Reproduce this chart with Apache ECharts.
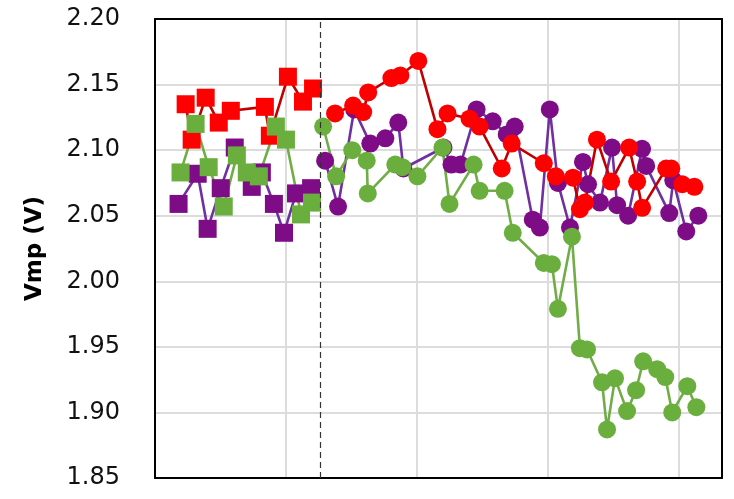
<!DOCTYPE html>
<html>
<head>
<meta charset="utf-8">
<script src="https://cdn.jsdelivr.net/npm/echarts@6/dist/echarts.min.js"></script>
<style>
  html, body { margin: 0; padding: 0; background: #ffffff; }
  #chart { width: 734px; height: 499px; }
</style>
</head>
<body>
<div id="chart"></div>
<script>
// Vmp readings [x position, volts]; squares are the initial run, circles follow the dashed marker
const redSquares = [[2.34,2.135],[2.80,2.108],[3.87,2.140],[4.87,2.121],[5.79,2.130],[8.39,2.133],[8.77,2.111],[10.15,2.156],[11.30,2.137],[12.07,2.147]];
const purpleSquares = [[1.80,2.059],[3.26,2.082],[4.02,2.040],[5.02,2.071],[6.09,2.102],[7.39,2.072],[8.16,2.083],[9.08,2.059],[9.85,2.037],[10.77,2.067],[11.92,2.071]];
const greenSquares = [[1.95,2.083],[3.10,2.120],[4.10,2.087],[5.25,2.057],[6.25,2.096],[7.01,2.083],[7.93,2.080],[9.23,2.118],[10.00,2.108],[11.15,2.051],[11.99,2.060]];

const redCircles = [[13.75,2.128],[15.13,2.134],[15.90,2.129],[16.28,2.144],[18.05,2.155],[18.74,2.157],[20.11,2.168],[21.57,2.116],[22.34,2.128],[24.02,2.124],[24.79,2.118],[26.48,2.086],[27.24,2.105],[29.69,2.090],[30.61,2.080],[31.92,2.079],[32.45,2.055],[32.84,2.060],[33.75,2.108],[34.83,2.076],[36.21,2.102],[36.82,2.076],[37.20,2.056],[39.04,2.086],[39.43,2.086],[40.27,2.074],[41.19,2.072]];
const purpleCircles = [[12.99,2.092],[13.98,2.057],[15.21,2.131],[16.44,2.105],[17.59,2.109],[18.58,2.121],[18.97,2.086],[22.03,2.102],[22.64,2.089],[23.33,2.089],[24.56,2.131],[25.79,2.122],[26.86,2.112],[27.47,2.118],[28.85,2.047],[29.39,2.041],[30.15,2.131],[30.77,2.075],[31.69,2.041],[32.68,2.091],[33.07,2.074],[33.98,2.060],[34.90,2.102],[35.29,2.058],[36.13,2.050],[37.20,2.101],[37.51,2.088],[39.27,2.052],[39.58,2.077],[40.57,2.038],[41.49,2.050]];
const greenCircles = [[12.84,2.118],[13.83,2.080],[15.06,2.100],[16.17,2.092],[16.25,2.067],[18.35,2.089],[18.89,2.087],[20.04,2.080],[21.95,2.102],[22.49,2.059],[24.33,2.089],[24.79,2.069],[26.70,2.069],[27.32,2.037],[29.69,2.014],[30.31,2.013],[30.77,1.979],[31.84,2.034],[32.45,1.949],[32.99,1.948],[34.14,1.923],[34.52,1.887],[35.13,1.926],[36.05,1.901],[36.74,1.917],[37.28,1.939],[38.35,1.933],[38.97,1.927],[39.50,1.900],[40.65,1.920],[41.34,1.904]];

const dividerX = 12.6;
const yTicks = { min: 1.85, max: 2.20, step: 0.05 };
const xRange = { min: 0, max: 43.3, step: 10 };

const chart = echarts.init(document.getElementById('chart'), null, { renderer: 'canvas' });

function lineSeries(name, data, symbol, markerColor, lineColor) {
  return {
    name: name,
    type: 'line',
    data: data,
    symbol: symbol,
    symbolSize: 18,
    showAllSymbol: true,
    animation: false,
    itemStyle: { color: markerColor, opacity: 1 },
    lineStyle: { color: lineColor, width: 2.6 },
    emphasis: { disabled: true }
  };
}

const series = [
  lineSeries('purple-sq', purpleSquares, 'rect', '#7e0c86', '#7030a0'),
  lineSeries('purple-ci', purpleCircles, 'circle', '#7e0c86', '#7030a0'),
  lineSeries('red-sq', redSquares, 'rect', '#ff0000', '#c00000'),
  lineSeries('red-ci', redCircles, 'circle', '#ff0000', '#c00000'),
  lineSeries('green-sq', greenSquares, 'rect', '#6aaf3e', '#70ad47'),
  lineSeries('green-ci', greenCircles, 'circle', '#6aaf3e', '#70ad47')
];

series[0].markLine = {
  silent: true,
  symbol: 'none',
  label: { show: false },
  lineStyle: { color: '#333', type: [6, 4], width: 1.2 },
  data: [{ xAxis: dividerX }]
};

// frame: each side of the plot box is an axis line so it sits above the grid lines
const frameLine = { show: true, onZero: false, lineStyle: { color: '#000', width: 2 } };
const gridLine = { show: true, lineStyle: { color: '#dcdcdc', width: 2 } };

chart.setOption({
  backgroundColor: '#ffffff',
  animation: false,
  grid: { left: 155, top: 19, right: 12, bottom: 21, containLabel: false },
  xAxis: [
    {
      type: 'value', position: 'bottom',
      min: xRange.min, max: xRange.max, interval: xRange.step,
      axisLine: frameLine, axisTick: { show: false }, axisLabel: { show: false },
      splitLine: gridLine
    },
    {
      type: 'value', position: 'top',
      min: xRange.min, max: xRange.max, interval: xRange.step,
      axisLine: frameLine, axisTick: { show: false }, axisLabel: { show: false },
      splitLine: { show: false }
    }
  ],
  yAxis: [
    {
      type: 'value', position: 'left',
      min: yTicks.min, max: yTicks.max, interval: yTicks.step,
      name: 'Vmp (V)',
      nameLocation: 'middle',
      nameGap: 108,
      nameRotate: 90,
      nameTextStyle: { fontFamily: 'DejaVu Sans', fontWeight: 'bold', fontSize: 23, color: '#000' },
      axisLine: frameLine,
      axisTick: { show: false },
      axisLabel: {
        margin: 35,
        fontFamily: 'DejaVu Sans', fontSize: 24, color: '#111',
        formatter: function (v) { return v.toFixed(2); }
      },
      splitLine: gridLine
    },
    {
      type: 'value', position: 'right',
      min: yTicks.min, max: yTicks.max, interval: yTicks.step,
      axisLine: frameLine, axisTick: { show: false }, axisLabel: { show: false },
      splitLine: { show: false }
    }
  ],
  series: series
});
</script>
</body>
</html>
